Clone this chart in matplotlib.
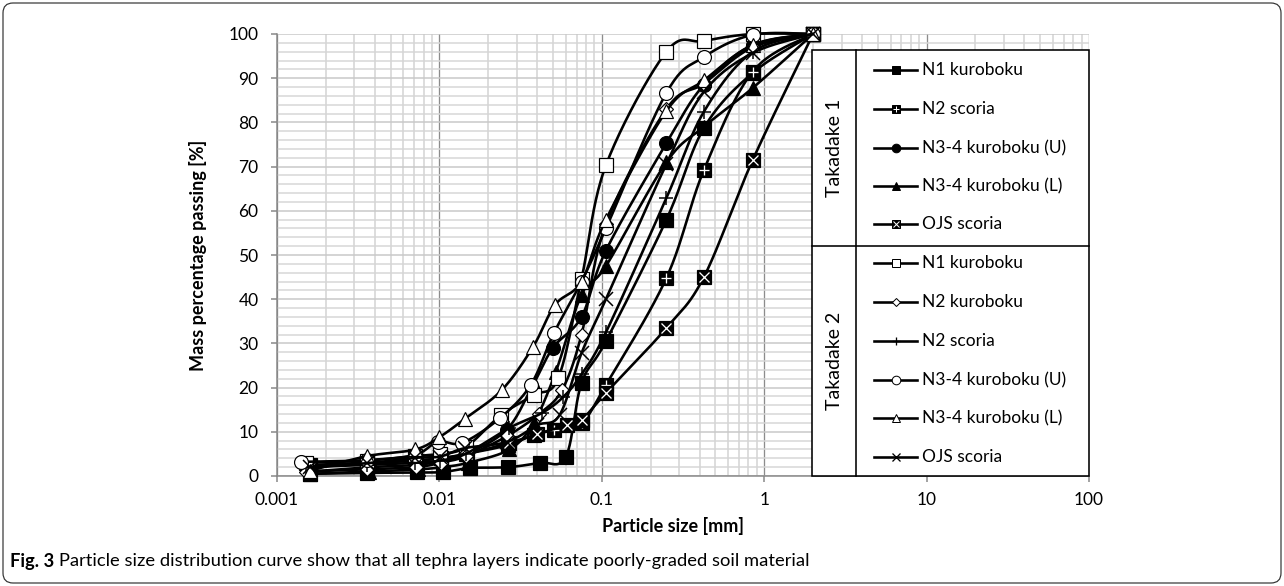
import numpy as np
import matplotlib
matplotlib.use('Agg')
import matplotlib.pyplot as plt
from matplotlib.patches import Rectangle, FancyBboxPatch
from matplotlib.ticker import FixedLocator, NullFormatter, MultipleLocator, FixedFormatter

plt.rcParams['font.family'] = ['Lato', 'DejaVu Sans']

# ---------------- data ----------------
group_names = ['Takadake 1', 'Takadake 2']
series_names = ['N1 kuroboku', 'N2 scoria', 'N3-4 kuroboku (U)', 'N3-4 kuroboku (L)', 'OJS scoria',
                'N1 kuroboku', 'N2 kuroboku', 'N2 scoria', 'N3-4 kuroboku (U)', 'N3-4 kuroboku (L)', 'OJS scoria']
series_group = [0, 0, 0, 0, 0, 1, 1, 1, 1, 1, 1]

t1_n1_x = [0.0016, 0.0036, 0.0073, 0.0105, 0.0154, 0.0265, 0.0415, 0.060, 0.075, 0.106, 0.25, 0.425, 0.85, 2]
t1_n1_y = [0.5, 0.7, 0.8, 0.9, 1.8, 2.0, 3.0, 4.3, 21.0, 30.5, 58.0, 78.7, 91.2, 100]
t1_n2s_x = [0.0016, 0.0036, 0.0072, 0.0102, 0.0146, 0.0265, 0.038, 0.051, 0.075, 0.106, 0.25, 0.425, 0.85, 2]
t1_n2s_y = [2.5, 3.0, 3.5, 4.0, 5.0, 7.0, 9.3, 10.4, 12.0, 20.6, 44.8, 69.2, 91.5, 100]
t1_u_x = [0.0016, 0.0037, 0.0073, 0.0103, 0.0148, 0.026, 0.037, 0.050, 0.075, 0.106, 0.25, 0.425, 0.85, 2]
t1_u_y = [1.0, 2.0, 2.5, 3.5, 5.0, 10.5, 20.0, 29.0, 36.0, 51.0, 75.3, 88.5, 97.5, 100]
t1_l_x = [0.0016, 0.0037, 0.0074, 0.0105, 0.015, 0.027, 0.038, 0.052, 0.075, 0.106, 0.25, 0.425, 0.85, 2]
t1_l_y = [0.5, 1.0, 1.5, 2.0, 3.0, 6.0, 12.0, 23.5, 41.0, 47.5, 71.0, 79.0, 87.8, 100]
t1_ojs_x = [0.0016, 0.0036, 0.0072, 0.0102, 0.0147, 0.027, 0.040, 0.061, 0.075, 0.106, 0.25, 0.425, 0.85, 2]
t1_ojs_y = [2.0, 2.8, 3.5, 4.0, 5.0, 7.5, 9.5, 11.5, 12.7, 18.8, 33.5, 45.0, 71.5, 100]

t2_n1_x = [0.0015, 0.0036, 0.0071, 0.0101, 0.0145, 0.024, 0.038, 0.054, 0.075, 0.106, 0.25, 0.425, 0.85, 2]
t2_n1_y = [3.0, 3.5, 4.5, 5.0, 6.5, 13.8, 18.3, 22.2, 44.6, 70.3, 96.0, 98.4, 100, 100]
t2_n2k_x = [0.0015, 0.0036, 0.0072, 0.0102, 0.0146, 0.026, 0.041, 0.057, 0.075, 0.106, 0.25, 0.425, 0.85, 2]
t2_n2k_y = [1.0, 1.5, 2.0, 3.0, 4.5, 9.0, 14.0, 19.5, 32.0, 57.0, 83.0, 88.8, 97.0, 100]
t2_n2s_x = [0.0015, 0.0036, 0.0071, 0.0101, 0.0145, 0.027, 0.043, 0.058, 0.075, 0.106, 0.25, 0.425, 0.85, 2]
t2_n2s_y = [2.0, 2.5, 3.0, 3.5, 5.0, 10.9, 14.3, 17.9, 23.0, 32.5, 62.9, 82.4, 96.0, 100]
t2_u_x = [0.0014, 0.0036, 0.0071, 0.0098, 0.0138, 0.0236, 0.0365, 0.0508, 0.075, 0.106, 0.25, 0.425, 0.85, 2]
t2_u_y = [3.2, 3.6, 4.8, 7.8, 7.5, 13.1, 20.6, 32.4, 44.0, 56.0, 86.7, 94.8, 99.8, 100]
t2_l_x = [0.0016, 0.0036, 0.0071, 0.0100, 0.0143, 0.0243, 0.0377, 0.0515, 0.075, 0.106, 0.25, 0.425, 0.85, 2]
t2_l_y = [1.2, 4.5, 6.0, 8.8, 12.9, 19.5, 29.2, 38.7, 44.0, 58.0, 82.6, 89.5, 97.5, 100]
t2_ojs_x = [0.0016, 0.0036, 0.0071, 0.0101, 0.0143, 0.026, 0.040, 0.055, 0.075, 0.106, 0.25, 0.425, 0.85, 2]
t2_ojs_y = [2.0, 2.9, 4.1, 4.4, 6.3, 7.7, 11.5, 13.8, 27.8, 40.0, 70.6, 86.9, 95.7, 100]

series_x = [t1_n1_x, t1_n2s_x, t1_u_x, t1_l_x, t1_ojs_x, t2_n1_x, t2_n2k_x, t2_n2s_x, t2_u_x, t2_l_x, t2_ojs_x]
series_y = [t1_n1_y, t1_n2s_y, t1_u_y, t1_l_y, t1_ojs_y, t2_n1_y, t2_n2k_y, t2_n2s_y, t2_u_y, t2_l_y, t2_ojs_y]

x_tick_values = [0.001, 0.01, 0.1, 1, 10, 100]
x_tick_labels = ['0.001', '0.01', '0.1', '1', '10', '100']
y_tick_values = [0, 10, 20, 30, 40, 50, 60, 70, 80, 90, 100]

# marker styles: (base marker, face, size, overlay marker, overlay color)
styles = [
    ('s', 'black', 9.5, None, None),
    ('s', 'black', 9.5, '+', 'white'),
    ('o', 'black', 10, None, None),
    ('^', 'black', 10, None, None),
    ('s', 'black', 9.5, 'x', 'white'),
    ('s', 'white', 9.5, None, None),
    ('D', 'white', 7.2, None, None),
    ('+', 'black', 10, None, None),
    ('o', 'white', 10, None, None),
    ('^', 'white', 10, None, None),
    ('x', 'black', 10, None, None),
]

W, H = 1284, 586
L, R, B, T = 277, 1089, 476, 34
PX = 72.0 / 100.0  # points per pixel

fig = plt.figure(figsize=(W / 100, H / 100), dpi=100)
fig.patch.set_facecolor('white')
ax = fig.add_axes([L / W, 1 - B / H, (R - L) / W, (B - T) / H])
ax.set_xscale('log')
ax.set_xlim(0.001, 100)
ax.set_ylim(0, 100)

# grid
ax.xaxis.set_major_locator(FixedLocator(x_tick_values))
ax.xaxis.set_major_formatter(FixedFormatter(x_tick_labels))
minor_x = [m * 10.0 ** e for e in range(-3, 2) for m in range(2, 10)]
ax.xaxis.set_minor_locator(FixedLocator(minor_x))
ax.xaxis.set_minor_formatter(NullFormatter())
ax.yaxis.set_major_locator(FixedLocator(y_tick_values))
ax.yaxis.set_minor_locator(MultipleLocator(2))
ax.grid(which='major', axis='x', color='#8c8c8c', lw=1.3 * PX)
ax.grid(which='minor', axis='x', color='#d3d3d3', lw=1.5 * PX)
ax.grid(which='major', axis='y', color='#c8c8c8', lw=1.5 * PX)
ax.grid(which='minor', axis='y', color='#d6d6d6', lw=1.5 * PX)
ax.set_axisbelow(True)
for s in ['top', 'right']:
    ax.spines[s].set_visible(False)
for s in ['left', 'bottom']:
    ax.spines[s].set_color('#868686')
    ax.spines[s].set_linewidth(1.5 * PX)
ax.tick_params(which='major', length=6 * PX, width=1.5 * PX, color='#868686', labelsize=12.5,
               labelcolor='black')
ax.tick_params(axis='x', which='major', pad=7)
ax.tick_params(axis='y', which='major', pad=9)
ax.tick_params(which='minor', length=0)

ax.set_xlabel('Particle size [mm]', fontsize=13, fontweight='bold')
ax.xaxis.set_label_coords((673 - L) / (R - L), -(517 - B) / (B - T))
ax.set_ylabel('Mass percentage passing [%]', fontsize=13, fontweight='bold')
ax.yaxis.set_label_coords(-(L - 207) / (R - L), 0.5)

# Excel-like smoothing (Bezier, Catmull-Rom control points) in display-proportional space
SX, SY = 162.4, 4.42


def smooth(xs, ys, n=24):
    u = np.log10(np.asarray(xs, float)) * SX
    v = np.asarray(ys, float) * SY
    P = np.column_stack([u, v])
    out = [P[0]]
    for i in range(len(P) - 1):
        p0 = P[i - 1] if i > 0 else P[i]
        p1, p2 = P[i], P[i + 1]
        p3 = P[i + 2] if i + 2 < len(P) else P[i + 1]
        c1 = p1 + (p2 - p0) / 6.0
        c2 = p2 - (p3 - p1) / 6.0
        t = np.linspace(0, 1, n)[1:, None]
        seg = ((1 - t) ** 3) * p1 + 3 * ((1 - t) ** 2) * t * c1 + 3 * (1 - t) * t ** 2 * c2 + t ** 3 * p2
        out.extend(seg)
    out = np.array(out)
    return 10 ** (out[:, 0] / SX), out[:, 1] / SY


LW = 2.6 * PX
for i, (xs, ys) in enumerate(zip(series_x, series_y)):
    mk, fc, ms, ov, oc = styles[i]
    sx, sy = smooth(xs, ys)
    z = 3 + i * 0.1
    ax.plot(sx, sy, color='black', lw=LW, zorder=z, clip_on=False)
    if mk in ('+', 'x'):
        ax.plot(xs, ys, ls='none', marker=mk, ms=ms, mec='black', mew=1.5 * PX, zorder=z + 0.01, clip_on=False)
    else:
        ax.plot(xs, ys, ls='none', marker=mk, ms=ms, mfc=fc, mec='black', mew=1.2 * PX,
                zorder=z + 0.01, clip_on=False)
    if ov:
        ax.plot(xs, ys, ls='none', marker=ov, ms=ms * 0.8, mec=oc, mew=1.3 * PX, zorder=z + 0.02, clip_on=False)

# ---------------- legend table (pixel overlay) ----------------
lax = fig.add_axes([0, 0, 1, 1], facecolor='none')
lax.set_xlim(0, W)
lax.set_ylim(H, 0)
lax.axis('off')

LX0, LX1, LXD = 812, 1089, 856
LY0, LY1, LYD = 50, 476, 246
lax.add_patch(Rectangle((LX0, LY0), LX1 - LX0, LY1 - LY0, facecolor='white', edgecolor='black',
                        lw=1.6 * PX, zorder=5))
lax.plot([LXD, LXD], [LY0, LY1], color='black', lw=1.6 * PX, zorder=6)
lax.plot([LX0, LX1], [LYD, LYD], color='black', lw=1.6 * PX, zorder=6)
lax.text((LX0 + LXD) / 2, (LY0 + LYD) / 2, group_names[0], rotation=90, ha='center', va='center',
         fontsize=14, zorder=7)
lax.text((LX0 + LXD) / 2, (LYD + LY1) / 2, group_names[1], rotation=90, ha='center', va='center',
         fontsize=14, zorder=7)

entry_y = [70, 109, 148, 186, 224, 263, 302, 341, 380, 418, 457]
for i, name in enumerate(series_names):
    yy = entry_y[i]
    mk, fc, ms, ov, oc = styles[i]
    lax.plot([874, 917], [yy, yy], color='black', lw=LW, zorder=7)
    sc = 0.62
    if mk in ('+', 'x'):
        lax.plot([895.5], [yy], ls='none', marker=mk, ms=ms * sc, mec='black', mew=1.3 * PX, zorder=8)
    else:
        lax.plot([895.5], [yy], ls='none', marker=mk, ms=ms * sc, mfc=fc, mec='black', mew=1.0 * PX, zorder=8)
    if ov:
        lax.plot([895.5], [yy], ls='none', marker=ov, ms=ms * sc * 0.8, mec=oc, mew=1.0 * PX, zorder=9)
    lax.text(922, yy, name, ha='left', va='center', fontsize=12.5, zorder=8)

# ---------------- caption and frame ----------------
frame = FancyBboxPatch((3, 3), W - 6, H - 6, boxstyle='round,pad=0,rounding_size=10',
                       facecolor='none', edgecolor='#333333', lw=1.2 * PX, zorder=1)
lax.add_patch(frame)
t1 = lax.text(10, 561, 'Fig. 3', fontsize=13.2, fontweight='bold', ha='left', va='center')
fig.canvas.draw()
bb = t1.get_window_extent()
lax.text(10 + bb.width + 5, 561,
         'Particle size distribution curve show that all tephra layers indicate poorly-graded soil material',
         fontsize=13.2, ha='left', va='center')

fig.savefig('out.png', dpi=100)
